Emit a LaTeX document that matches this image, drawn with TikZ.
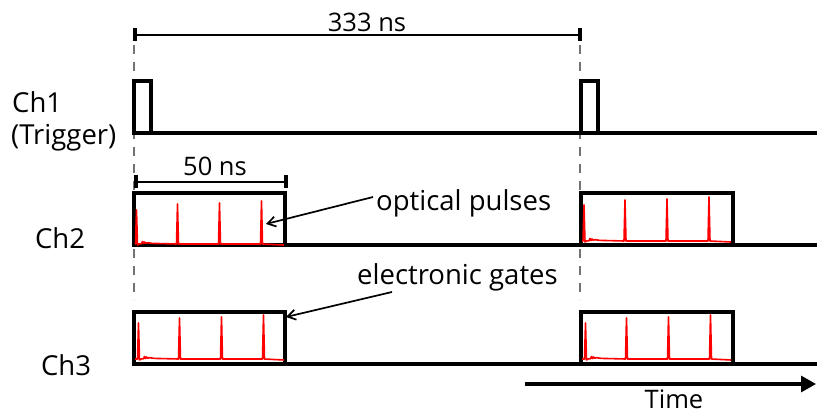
\documentclass[tikz,border=0pt]{standalone}
\usepackage{fontspec}
\setmainfont{Open Sans}
\usetikzlibrary{arrows.meta}
\tikzset{
  wave/.style={line width=3.2pt, black},
  guide/.style={black!55, line width=1.8pt, dash pattern=on 9pt off 8pt},
  dim/.style={line width=2.2pt},
  dimtick/.style={line width=3.6pt},
  trace/.style={red, line width=1.6pt, line join=round},
  lbl/.style={font=\fontsize{27.5}{32}\selectfont, inner sep=0pt},
  numlbl/.style={font=\fontsize{25.5}{30}\selectfont, inner sep=0pt},
  callout/.style={line width=1.7pt, -{Straight Barb[length=8pt,width=10pt]}},
  timearrow/.style={line width=3.2pt, -{Triangle[length=15pt,width=16pt]}},
}
% #1 x0, #2 ybottom, #3 lift, #4 first spike dx, #5..#8 spike heights
\newcommand\redtrace[8]{%
  \draw[trace, shift={(#1,#2)}]
    (1,{-#3}) -- ({#4-1},{-#3}) -- (#4,{-#3-#5}) -- ({#4+1},{-#3+1}) -- ({#4+2.5},{-#3})
    -- ({#4+5},{-#3-0.3}) -- ({#4+6},{-#3-2.5}) -- ({#4+7},{-#3-0.5}) -- ({#4+8},{-#3-2})
    -- ({#4+9},{-#3-0.8}) -- ({#4+11},{-#3-1.3}) -- ({#4+16},{-#3-0.6}) -- ({#4+25},{-#3-0.4})
    -- ({#4+40},{-#3}) -- ({#4+41},{-#3-#6}) -- ({#4+42},{-#3})
    -- ({#4+82},{-#3}) -- ({#4+83},{-#3-#7}) -- ({#4+84},{-#3})
    -- ({#4+124},{-#3}) -- ({#4+125},{-#3-#8}) -- ({#4+126},{-#3}) -- (150,{-#3+1});
}
\begin{document}
\begin{tikzpicture}[x=1pt,y=-1pt]
\useasboundingbox (0,0) rectangle (817,414);

% guide lines
\draw[guide] (134,45) -- (134,300);
\draw[guide] (580,45) -- (580,300);

% 333 ns dimension
\coordinate (d1a) at (135,35);
\coordinate (d1b) at (580,35);
\draw[dim] (d1a) -- (d1b);
\draw[dimtick] ([yshift=-6pt]d1a) -- ([yshift=7pt]d1a);
\draw[dimtick] ([yshift=-6pt]d1b) -- ([yshift=7pt]d1b);
\node[numlbl, anchor=base] (t333) at (367,31.5) {333 ns};

% Ch1
\node[lbl, anchor=base west] (ch1) at (12,113) {Ch1};
\node[lbl, anchor=base west] (trig) at (11,145) {(Trigger)};
\draw[wave] (134,133) -- (817,133);
\draw[wave] (134,133) rectangle (151,81);
\draw[wave] (581,133) rectangle (598,81);

% 50 ns dimension
\coordinate (d2a) at (136,182);
\coordinate (d2b) at (286,182);
\draw[dim] (d2a) -- (d2b);
\draw[dimtick] ([yshift=-6.5pt]d2a) -- ([yshift=6.5pt]d2a);
\draw[dimtick] ([yshift=-6.5pt]d2b) -- ([yshift=6.5pt]d2b);
\node[numlbl, anchor=base] (t50) at (215,176) {50 ns};

% Ch2
\node[lbl, anchor=base] (ch2) at (60,249) {Ch2};
\draw[wave] (134,245) -- (817,245);
\draw[wave] (134,245) rectangle (285,193);
\draw[wave] (581,245) rectangle (733,193);
\redtrace{134}{245}{1}{2.5}{34}{40}{41}{43}
\redtrace{581}{245}{4}{3}{36}{41}{42}{44}

% Ch3
\node[lbl, anchor=base] (ch3) at (66,375) {Ch3};
\draw[wave] (134,364) -- (817,364);
\draw[wave] (134,364) rectangle (285,312);
\draw[wave] (581,364) rectangle (733,312);
\redtrace{134}{364}{5}{4.5}{36}{41}{42}{44}
\redtrace{581}{364}{5}{4.5}{36}{41}{42}{44}

% callouts
\node[lbl, anchor=base west] (opt) at (376,211) {optical pulses};
\coordinate (optTail) at (373,197);
\coordinate (optTip) at (266,224);
\draw[callout] (optTail) -- (optTip);

\node[lbl, anchor=base west] (ele) at (357,285) {electronic gates};
\coordinate (eleTail) at (392,292);
\coordinate (eleTip) at (286,317);
\draw[callout] (eleTail) -- (eleTip);

% time arrow
\coordinate (tA) at (525,384);
\coordinate (tB) at (816,384);
\draw[timearrow] (tA) -- (tB);
\node[numlbl, anchor=base] (time) at (674,408) {Time};
\end{tikzpicture}
\end{document}
